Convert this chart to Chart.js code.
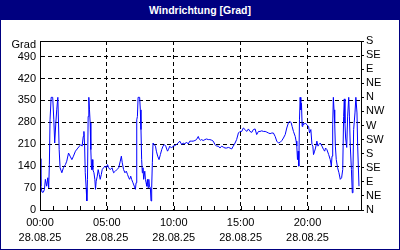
<!DOCTYPE html>
<html>
<head>
<meta charset="utf-8">
<script src="https://cdn.jsdelivr.net/npm/chart.js@4.4.1/dist/chart.umd.min.js"></script>
<style>
  body { margin: 0; background: #fff; }
  #wrap { position: relative; width: 400px; height: 250px; background: #fff; }
  #chart { position: absolute; left: 0; top: 0; }
  #title {
    position: absolute; left: 0; top: 0; width: 400px; height: 20px;
    background: #000080; color: #fff; text-align: center;
    font: bold 10.5px "Liberation Sans", Arial, sans-serif; line-height: 20px;
  }
  #frame { position: absolute; inset: 0; border: 1px solid #000080; pointer-events: none; }
</style>
</head>
<body>
<div id="wrap">
  <canvas id="chart" width="400" height="250"></canvas>
  <div id="title">Windrichtung [Grad]</div>
  <div id="frame"></div>
</div>
<script>
// time of day in minutes, wind direction in degrees
const minutes = [0, 4, 9, 15, 20, 24, 30, 35, 39, 42, 45, 50, 57, 62, 66, 71, 75, 80, 83, 86,
  90, 98, 105, 114, 120, 128, 135, 143, 150, 159, 170, 177, 183, 189, 194, 197, 200, 203, 207, 210,
  213, 216, 219, 222, 225, 228, 231, 234, 237, 242, 246, 249, 252, 257, 261, 266, 270, 275, 279, 285,
  291, 297, 303, 308, 315, 323, 330, 338, 345, 353, 360, 365, 369, 375, 381, 387, 393, 398, 402, 407,
  411, 417, 423, 428, 431, 434, 437, 440, 447, 450, 453, 456, 459, 462, 465, 470, 473, 476, 479, 482,
  485, 488, 491, 495, 498, 501, 504, 507, 512, 518, 522, 528, 534, 540, 546, 552, 558, 564, 572, 576,
  582, 590, 597, 605, 612, 620, 627, 632, 636, 642, 650, 657, 665, 672, 680, 687, 695, 702, 710, 714,
  720, 725, 732, 740, 747, 755, 762, 770, 777, 785, 792, 800, 807, 815, 822, 830, 837, 845, 852, 860,
  867, 875, 882, 890, 897, 905, 912, 920, 927, 935, 942, 950, 957, 965, 972, 980, 987, 995, 1002, 1010,
  1017, 1025, 1032, 1040, 1047, 1055, 1062, 1070, 1077, 1085, 1092, 1100, 1107, 1115, 1122, 1127, 1131, 1137, 1145, 1149,
  1152, 1155, 1158, 1161, 1164, 1167, 1170, 1173, 1176, 1179, 1182, 1190, 1197, 1205, 1209, 1215, 1220, 1224, 1227, 1232,
  1236, 1242, 1247, 1251, 1257, 1265, 1272, 1277, 1281, 1287, 1295, 1302, 1307, 1310, 1313, 1316, 1319, 1322, 1325, 1329,
  1335, 1341, 1347, 1353, 1358, 1362, 1365, 1368, 1371, 1376, 1380, 1385, 1388, 1392, 1397, 1401, 1404, 1407, 1413, 1417,
  1422, 1425, 1431];
const degrees = [164, 76, 57, 57, 66, 98, 76, 103, 71, 145, 288, 360, 360, 288, 214, 278, 320, 360, 278, 193,
  135, 119, 135, 145, 156, 182, 172, 161, 172, 188, 198, 204, 209, 204, 235, 251, 209, 119, 71, 29,
  98, 299, 360, 320, 278, 193, 129, 161, 129, 119, 98, 66, 92, 108, 129, 113, 98, 113, 129, 135,
  140, 135, 145, 135, 129, 135, 119, 124, 129, 135, 156, 172, 151, 129, 119, 124, 113, 103, 98, 108,
  98, 87, 76, 66, 87, 288, 299, 360, 360, 320, 257, 161, 119, 135, 98, 124, 98, 87, 76, 98,
  71, 98, 76, 71, 29, 71, 151, 214, 209, 204, 188, 172, 161, 177, 193, 204, 209, 204, 188, 193,
  204, 198, 204, 206, 209, 214, 220, 214, 209, 214, 211, 217, 211, 220, 220, 220, 222, 225, 235, 227,
  223, 225, 222, 225, 227, 225, 225, 223, 220, 209, 204, 204, 198, 204, 201, 198, 198, 200, 198, 195,
  204, 214, 225, 246, 251, 251, 262, 257, 251, 259, 251, 248, 257, 259, 241, 251, 251, 253, 251, 251,
  249, 246, 244, 246, 246, 235, 220, 214, 216, 222, 230, 241, 262, 280, 283, 278, 267, 251, 235, 220,
  204, 161, 188, 140, 288, 360, 320, 341, 267, 278, 272, 278, 272, 267, 246, 257, 209, 204, 177, 188,
  198, 220, 204, 209, 214, 204, 193, 188, 198, 193, 177, 161, 140, 172, 272, 360, 320, 278, 204, 161,
  135, 119, 98, 103, 129, 299, 355, 278, 230, 200, 300, 360, 300, 204, 129, 55, 129, 257, 310, 360,
  310, 204, 76];

const hourLabels = ['00:00', '05:00', '10:00', '15:00', '20:00'];
const dateLabel = '28.08.25';
const degreeTicks = ['0', '70', '140', '210', '280', '350', '420', '490'];
const dirLabels = ['N', 'NE', 'E', 'SE', 'S', 'SW', 'W', 'NW', 'N', 'NE', 'E', 'SE', 'S'];
const unitLabel = 'Grad';

const fontFamily = '"Liberation Sans Narrow", "Liberation Sans", Arial, sans-serif';
Chart.defaults.font.family = fontFamily;
Chart.defaults.font.size = 11;
Chart.defaults.color = '#000';

const points = minutes.map((m, i) => ({ x: m, y: degrees[i] }));

// frame, hourly tick marks and unit label
const framePlugin = {
    id: 'frame',
    afterDraw(chart) {
        const { ctx, chartArea: a, scales } = chart;
        ctx.save();
        ctx.strokeStyle = '#000';
        ctx.lineWidth = 1;
        ctx.strokeRect(Math.round(a.left) + 0.5, Math.round(a.top) + 0.5,
            Math.round(a.right - a.left), Math.round(a.bottom - a.top));
        scales.x.ticks.forEach(t => {
            const px = Math.round(scales.x.getPixelForValue(t.value)) + 0.5;
            ctx.beginPath();
            ctx.moveTo(px, Math.round(a.bottom));
            ctx.lineTo(px, Math.round(a.bottom) - 4);
            ctx.stroke();
        });
        ctx.fillStyle = '#000';
        ctx.font = '11px ' + fontFamily;
        ctx.textAlign = 'right';
        ctx.textBaseline = 'middle';
        ctx.fillText(unitLabel, scales.y.right - 4, a.top + 4);
        ctx.restore();
    }
};

new Chart(document.getElementById('chart'), {
    type: 'line',
    data: {
        datasets: [{
            data: points,
            borderColor: '#0000ff',
            borderWidth: 1,
            pointRadius: 0,
            tension: 0,
            fill: false
        }]
    },
    options: {
        responsive: false,
        animation: false,
        devicePixelRatio: 1,
        layout: { padding: { top: 41, left: 0, right: 0, bottom: 0 } },
        plugins: { legend: { display: false }, tooltip: { enabled: false } },
        scales: {
            x: {
                type: 'linear',
                min: 0,
                max: 1440,
                bounds: 'data',
                afterFit: s => { s.height = 40; },
                ticks: {
                    stepSize: 60,
                    autoSkip: false,
                    maxRotation: 0,
                    padding: 5,
                    font: { size: 11, lineHeight: '15px' },
                    callback: v => v % 300 === 0 && v < 1440 ? [hourLabels[v / 300], dateLabel] : ''
                },
                grid: {
                    drawTicks: false,
                    color: c => (c.tick && c.tick.value % 300 === 0 && c.tick.value > 0 && c.tick.value < 1440) ? '#000' : 'rgba(0,0,0,0)'
                },
                border: { display: true, color: '#000', dash: [4, 3] }
            },
            y: {
                position: 'left',
                min: 0,
                max: 540,
                bounds: 'data',
                afterFit: s => { s.width = 40; },
                ticks: {
                    stepSize: 70,
                    autoSkip: false,
                    padding: 4,
                    callback: v => (v % 70 === 0 && v / 70 < degreeTicks.length) ? degreeTicks[v / 70] : ''
                },
                grid: {
                    drawTicks: false,
                    color: c => (c.tick && c.tick.value > 0 && c.tick.value < 540) ? '#000' : 'rgba(0,0,0,0)'
                },
                border: { display: true, color: '#000', dash: [4, 3] }
            },
            y2: {
                position: 'right',
                min: 0,
                max: 540,
                bounds: 'data',
                afterFit: s => { s.width = 39; },
                ticks: {
                    stepSize: 45,
                    autoSkip: false,
                    padding: 2,
                    callback: v => dirLabels[Math.round(v / 45)]
                },
                grid: { drawOnChartArea: false, drawTicks: true, tickLength: 3, tickColor: '#000' },
                border: { display: true, color: '#000' }
            }
        }
    },
    plugins: [framePlugin]
});
</script>
</body>
</html>
